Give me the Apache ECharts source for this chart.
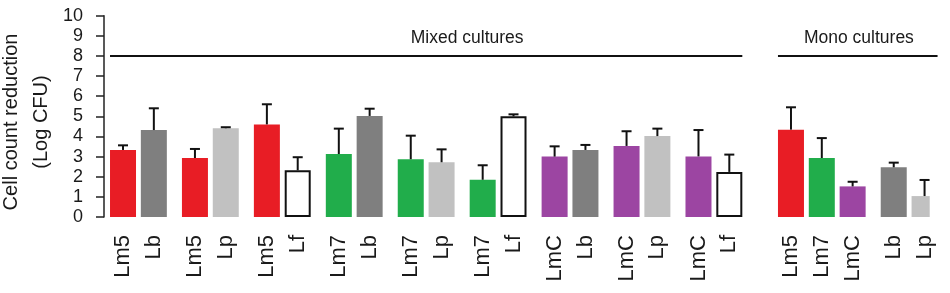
<!DOCTYPE html>
<html><head><meta charset="utf-8">
<script src="https://cdn.jsdelivr.net/npm/echarts@6/dist/echarts.min.js"></script>
<style>html,body{margin:0;padding:0;background:#fff}#c{width:950px;height:293px}</style>
</head><body><div id="c"></div>
<script>
// ---- data ----
const barLabels = ['Lm5','Lb','Lm5','Lp','Lm5','Lf','Lm7','Lb','Lm7','Lp','Lm7','Lf','LmC','Lb','LmC','Lp','LmC','Lf','Lm5','Lm7','LmC','Lb','Lp'];
const barMeans  = [3.33,4.32,2.93,4.41,4.60,2.32,3.13,5.02,2.87,2.72,1.85,5.00,3.00,3.33,3.53,4.02,3.01,2.24,4.34,2.93,1.52,2.47,1.04];
const barErrors = [0.23,1.08,0.45,0.05,1.00,0.65,1.26,0.36,1.17,0.64,0.72,0.10,0.51,0.25,0.73,0.37,1.31,0.86,1.11,0.99,0.23,0.23,0.80];
const barGroups = [0,0,1,1,2,2,3,3,4,4,5,5,6,6,7,7,8,8,9,9,9,10,10];
const barSections = [0,0,0,0,0,0,0,0,0,0,0,0,0,0,0,0,0,0,1,1,1,1,1];
const sectionNames = ['Mixed cultures','Mono cultures'];
const sectionLevel = 8;
const yAxisTitle = 'Cell count reduction\n(Log CFU)';
const yMin = 0, yMax = 10, yStep = 1;

// ---- styles / layout ----
const strainColors = {Lm5:'#e81d25', Lm7:'#21ad4b', LmC:'#9c45a2', Lb:'#7f7f7f', Lp:'#c1c1c1', Lf:'#ffffff'};
const FONT = 'Liberation Sans, Arial, Helvetica, sans-serif';
const BAR_W = 26;
const STEP_IN_GROUP = 3, STEP_BETWEEN_GROUPS = 4, STEP_BETWEEN_SECTIONS = 6;
const sectionLabelAnchors = [[9,10],[18,22]];
const sectionLabelDx = [5, -4];

const cats = [''];
const barIndex = [];
for (let i = 0; i < barLabels.length; i++) {
  if (i > 0) {
    let step = barGroups[i] === barGroups[i-1] ? STEP_IN_GROUP : STEP_BETWEEN_GROUPS;
    if (barSections[i] !== barSections[i-1]) step = STEP_BETWEEN_SECTIONS;
    for (let k = 1; k < step; k++) cats.push('');
  }
  barIndex.push(cats.length);
  cats.push(barLabels[i]);
}

const barData = cats.map(() => '-');
barIndex.forEach((ci, i) => {
  const lab = barLabels[i];
  const white = lab === 'Lf';
  barData[ci] = {
    value: barMeans[i],
    itemStyle: { color: strainColors[lab], borderColor: white ? '#111' : strainColors[lab], borderWidth: white ? 2 : 0 }
  };
});

const errData = barIndex.map((ci, i) => [ci, barMeans[i], barMeans[i] + barErrors[i]]);

const sectionData = sectionNames.map((n, s) => {
  const idx = barSections.map((v, i) => v === s ? i : -1).filter(v => v >= 0);
  const a = sectionLabelAnchors[s];
  return [barIndex[idx[0]], barIndex[idx[idx.length-1]], sectionLevel, (barIndex[a[0]] + barIndex[a[1]]) / 2, s];
});

const chart = echarts.init(document.getElementById('c'), null, {renderer: 'canvas'});
chart.setOption({
  animation: false,
  backgroundColor: '#fff',
  grid: { left: 107.6, right: 20.3, top: 15.7, bottom: 76, containLabel: false, outerBoundsMode: 'none' },
  graphic: [{
    type: 'text', x: 26.5, y: 122, rotation: Math.PI / 2,
    style: { text: yAxisTitle, align: 'center', verticalAlign: 'middle', fontSize: 20, lineHeight: 30, fontFamily: FONT, fill: '#1a1a1a' }
  }],
  xAxis: {
    type: 'category', data: cats,
    axisLine: { show: false }, axisTick: { show: false },
    axisLabel: { interval: 0, rotate: 90, margin: 18, fontSize: 22, color: '#1a1a1a', fontFamily: FONT }
  },
  yAxis: {
    type: 'value', min: yMin, max: yMax, interval: yStep, offset: 3.6,
    splitLine: { show: false },
    axisLine: { show: true, lineStyle: { color: '#222', width: 1.5 } },
    axisTick: { show: true, length: 8, lineStyle: { color: '#222', width: 1.5 } },
    axisLabel: { fontSize: 18, color: '#1a1a1a', fontFamily: FONT, margin: 21 }
  },
  series: [
    { type: 'bar', data: barData, barWidth: BAR_W, z: 2 },
    {
      type: 'custom', data: errData, z: 3,
      encode: { x: 0, y: [1, 2] },
      renderItem: (params, api) => {
        const x = api.value(0);
        const p0 = api.coord([x, api.value(1)]);
        const p1 = api.coord([x, api.value(2)]);
        const st = { stroke: '#111', lineWidth: 2 };
        return { type: 'group', children: [
          { type: 'line', shape: { x1: p0[0], y1: p0[1], x2: p1[0], y2: p1[1] }, style: st },
          { type: 'line', shape: { x1: p1[0] - 5, y1: p1[1], x2: p1[0] + 5, y2: p1[1] }, style: st }
        ]};
      }
    },
    {
      type: 'custom', data: sectionData, z: 3,
      encode: { x: [0, 1], y: 2 },
      renderItem: (params, api) => {
        const lv = api.value(2);
        const s = api.value(4);
        const a = api.coord([api.value(0), lv]);
        const b = api.coord([api.value(1), lv]);
        const t = api.coord([api.value(3), lv + 0.9]);
        return { type: 'group', children: [
          { type: 'line', shape: { x1: a[0] - BAR_W/2, y1: a[1], x2: b[0] + BAR_W/2, y2: b[1] }, style: { stroke: '#111', lineWidth: 2 } },
          { type: 'text', style: { text: sectionNames[s], x: t[0] + sectionLabelDx[s], y: t[1], align: 'center', verticalAlign: 'middle', fontSize: 17.5, fontFamily: FONT, fill: '#1a1a1a' } }
        ]};
      }
    }
  ]
});
</script></body></html>
